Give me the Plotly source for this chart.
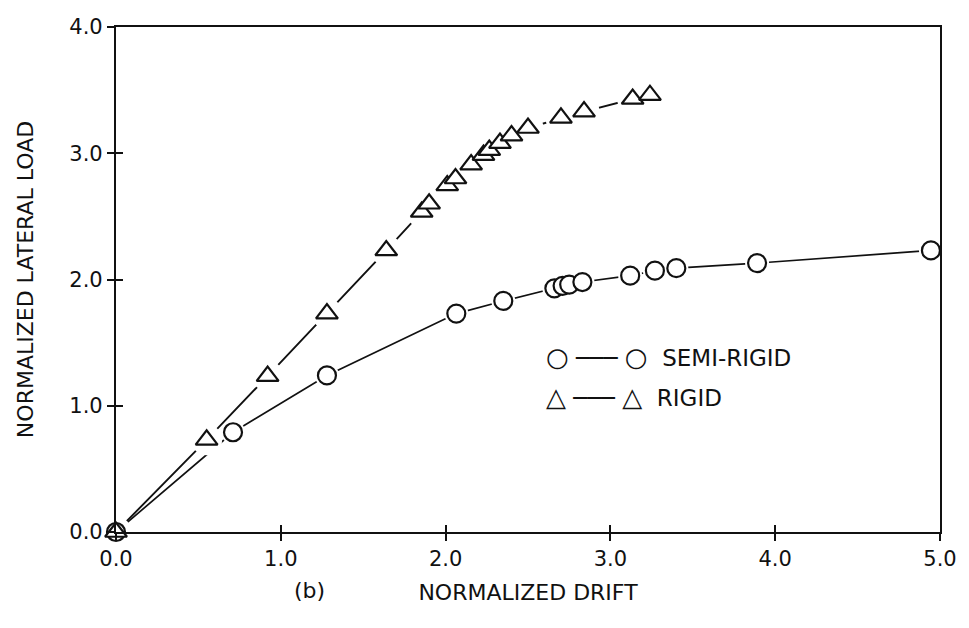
import plotly.graph_objects as go

# ---- data ----
semi_drift = [0.0, 0.71, 1.28, 2.065, 2.35, 2.66, 2.71, 2.75, 2.83, 3.12, 3.27, 3.40, 3.89, 4.945]
semi_load = [0.0, 0.79, 1.24, 1.73, 1.83, 1.93, 1.95, 1.96, 1.98, 2.03, 2.07, 2.09, 2.13, 2.23]

rigid_drift = [0.0, 0.55, 0.92, 1.28, 1.64, 1.855, 1.90, 2.01, 2.06, 2.155, 2.23, 2.265,
               2.33, 2.40, 2.50, 2.70, 2.84, 3.135, 3.24]
rigid_load = [0.0, 0.73, 1.235, 1.73, 2.23, 2.535, 2.60, 2.745, 2.80, 2.91, 2.985, 3.025,
              3.08, 3.14, 3.20, 3.28, 3.33, 3.43, 3.46]

x_ticks = [0, 1, 2, 3, 4, 5]
x_tick_labels = ["0.0", "1.0", "2.0", "3.0", "4.0", "5.0"]
y_ticks = [0, 1, 2, 3, 4]
y_tick_labels = ["0.0", "1.0", "2.0", "3.0", "4.0"]

legend_symbols = ["○", "△"]
legend_labels = ["SEMI-RIGID", "RIGID"]
x_title = "NORMALIZED DRIFT"
y_title = "NORMALIZED LATERAL LOAD"
panel_label = "(b)"

FONT = "DejaVu Sans"
BLACK = "#111111"

fig = go.Figure()

# connecting lines (base subplot)
fig.add_trace(go.Scatter(x=semi_drift, y=semi_load, mode="lines",
                         line=dict(color=BLACK, width=1.7), showlegend=False,
                         hoverinfo="skip", cliponaxis=False))
fig.add_trace(go.Scatter(x=rigid_drift, y=rigid_load, mode="lines",
                         line=dict(color=BLACK, width=1.9), showlegend=False,
                         hoverinfo="skip", cliponaxis=False))

# white halos that open gaps in the lines around each marker (overlaid subplot)
fig.add_trace(go.Scatter(x=semi_drift, y=semi_load, mode="markers",
                         xaxis="x2", yaxis="y2",
                         marker=dict(symbol="circle", size=24, color="white",
                                     line=dict(width=0)),
                         showlegend=False, hoverinfo="skip", cliponaxis=False))
fig.add_trace(go.Scatter(x=rigid_drift, y=rigid_load, mode="markers",
                         xaxis="x2", yaxis="y2",
                         marker=dict(symbol="circle", size=31, color="white",
                                     line=dict(width=0)),
                         showlegend=False, hoverinfo="skip", cliponaxis=False))

# visible open markers
fig.add_trace(go.Scatter(x=semi_drift, y=semi_load, mode="markers", name="SEMI-RIGID",
                         xaxis="x2", yaxis="y2",
                         marker=dict(symbol="circle", size=18, color="white",
                                     line=dict(color=BLACK, width=2.2)),
                         showlegend=False, cliponaxis=False))
fig.add_trace(go.Scatter(x=rigid_drift, y=rigid_load, mode="markers", name="RIGID",
                         xaxis="x2", yaxis="y2",
                         marker=dict(symbol="triangle-up", size=19, color="white",
                                     line=dict(color=BLACK, width=2.2)),
                         showlegend=False, cliponaxis=False))

tick_font = dict(family=FONT, size=21, color=BLACK)

fig.update_layout(
    width=969, height=628,
    margin=dict(l=116, r=25, t=27, b=96),
    paper_bgcolor="white", plot_bgcolor="white",
    showlegend=False,
    xaxis=dict(range=[0, 5], tickvals=x_ticks, ticktext=x_tick_labels,
               ticks="outside", ticklen=7, tickwidth=1.8, tickcolor=BLACK,
               showline=True, linewidth=2.2, linecolor=BLACK, mirror=True,
               showgrid=False, zeroline=False, tickfont=tick_font,
               title=dict(text=x_title, font=dict(family=FONT, size=22, color=BLACK),
                          standoff=14)),
    yaxis=dict(range=[0, 4], tickvals=y_ticks, ticktext=y_tick_labels,
               ticks="outside", ticklen=7, tickwidth=1.8, tickcolor=BLACK,
               showline=True, linewidth=2.2, linecolor=BLACK, mirror=True,
               showgrid=False, zeroline=False, tickfont=tick_font,
               title=dict(text=y_title, font=dict(family=FONT, size=22, color=BLACK),
                          standoff=30)),
    xaxis2=dict(range=[0, 5], tickvals=x_ticks, overlaying="x", anchor="y2",
                side="bottom", ticks="inside", ticklen=7, tickwidth=1.8,
                tickcolor=BLACK, showticklabels=False, showline=False,
                showgrid=False, zeroline=False),
    yaxis2=dict(range=[0, 4], tickvals=y_ticks, overlaying="y", anchor="x2",
                side="left", ticks="inside", ticklen=7, tickwidth=1.8,
                tickcolor=BLACK, showticklabels=False, showline=False,
                showgrid=False, zeroline=False),
)

# panel label
fig.add_annotation(text=panel_label, xref="paper", yref="paper",
                   x=(310 - 116) / 828, y=-(590 - 532) / 505,
                   xanchor="center", yanchor="middle", showarrow=False,
                   font=dict(family=FONT, size=22, color=BLACK))

# legend drawn as text rows
for i, (sym, lab) in enumerate(zip(legend_symbols, legend_labels)):
    big = "<span style='font-size:26px'>%s</span>" % sym
    row = "%s ─── %s  %s" % (big, big, lab)
    fig.add_annotation(text=row, xref="paper", yref="paper",
                       x=(546 - 116) / 828, y=(532 - (357 + 40 * i)) / 505,
                       xanchor="left", yanchor="middle", showarrow=False,
                       font=dict(family=FONT, size=23, color=BLACK))

fig.write_html("out.html", config={"displayModeBar": False},
               post_script="document.body.style.margin='0px';")
